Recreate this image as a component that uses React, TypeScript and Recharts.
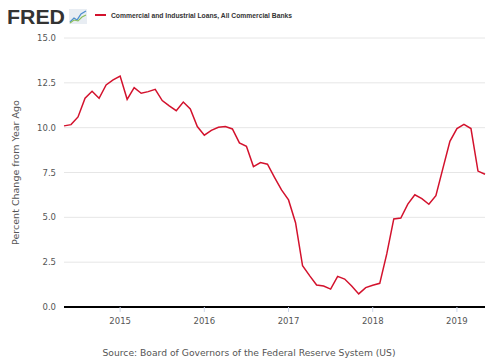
import React from "react";
import { LineChart, Line, XAxis, YAxis, CartesianGrid } from "recharts";

// monthly, May 2014 .. May 2019
const startYear = 2014;
const startMonth = 4; // May (0-based)

const loanGrowth: number[] = [
  10.1, 10.17, 10.6, 11.64, 12.03, 11.64, 12.38, 12.66, // 2014 May-Dec
  12.88, 11.58, 12.23, 11.92, 12.01, 12.14, 11.51, 11.21, 10.95, 11.43, 11.04, 10.06, // 2015
  9.58, 9.85, 10.02, 10.06, 9.93, 9.15, 8.96, 7.83, 8.05, 7.96, 7.23, 6.53, // 2016
  5.97, 4.7, 2.3, 1.75, 1.23, 1.17, 1.0, 1.71, 1.56, 1.17, 0.73, 1.08, // 2017
  1.21, 1.32, 2.96, 4.91, 4.96, 5.74, 6.26, 6.04, 5.73, 6.21, 7.73, 9.24, // 2018
  9.95, 10.19, 9.95, 7.58, 7.4, // 2019 Jan-May
];

const yearTicks = [2015, 2016, 2017, 2018, 2019];
const valueTicks = [0, 2.5, 5, 7.5, 10, 12.5, 15];

const seriesTitle = "Commercial and Industrial Loans, All Commercial Banks";
const yLabel = "Percent Change from Year Ago";
const sourceText = "Source: Board of Governors of the Federal Reserve System (US)";

const data = loanGrowth.map((value, i) => ({
  t: (startMonth + i) / 12 + startYear,
  value,
}));

const font = "'DejaVu Sans', sans-serif";

export default function App() {
  return (
    <div style={{ position: "absolute", left: 0, top: 0, width: 500, height: 360, background: "#fff" }}>
      <LineChart
        width={500}
        height={360}
        data={data}
        margin={{ top: 38, right: 15, bottom: 23, left: 0 }}
      >
        <CartesianGrid vertical={false} stroke="#e6e6e6" />
        <XAxis
          dataKey="t"
          type="number"
          domain={[startYear + startMonth / 12, 2019 + 4 / 12]}
          ticks={yearTicks}
          tickFormatter={(v: number) => String(Math.round(v))}
          axisLine={{ stroke: "#000", strokeWidth: 2 }}
          tickLine={{ stroke: "#ccd6eb" }}
          tickSize={5}
          tick={{ fill: "#555", fontSize: 8.5, fontFamily: font, dy: 4 }}
          height={30}
        />
        <YAxis
          domain={[0, 15]}
          ticks={valueTicks}
          tickFormatter={(v: number) => v.toFixed(1)}
          axisLine={false}
          tickLine={false}
          tick={{ fill: "#555", fontSize: 8.5, fontFamily: font }}
          width={64}
          label={{
            value: yLabel,
            angle: -90,
            position: "insideLeft",
            offset: 16,
            style: { textAnchor: "middle", fill: "#555", fontSize: 9.5, fontFamily: font },
          }}
        />
        <Line
          type="linear"
          dataKey="value"
          stroke="#d3122d"
          strokeWidth={1.5}
          dot={false}
          isAnimationActive={false}
        />
      </LineChart>
      <svg width={500} height={360} style={{ position: "absolute", left: 0, top: 0, pointerEvents: "none" }}>
        <text x={7} y={24} fontFamily="'Liberation Sans', sans-serif" fontWeight="bold" fontSize={21} fill="#333" textLength={58} lengthAdjust="spacingAndGlyphs">
          FRED
        </text>
        <rect x={69} y={9} width={18} height={15} fill="#e8edf3" />
        <polyline points="70,22 74,18 77,20 81,14 86,11" fill="none" stroke="#4e8fcf" strokeWidth={1.3} />
        <polyline points="70,23 74,20 78,21 82,17 86,15" fill="none" stroke="#8bbf5a" strokeWidth={1.1} />
        <line x1={95} y1={15} x2={106} y2={15} stroke="#d3122d" strokeWidth={2} />
        <text x={111} y={18} fontFamily="'Liberation Sans', sans-serif" fontWeight="bold" fontSize={7.5} fill="#333" textLength={181} lengthAdjust="spacingAndGlyphs">
          {seriesTitle}
        </text>
        <text x={249} y={356} textAnchor="middle" fontFamily={font} fontSize={9.2} fill="#555">
          {sourceText}
        </text>
      </svg>
    </div>
  );
}
